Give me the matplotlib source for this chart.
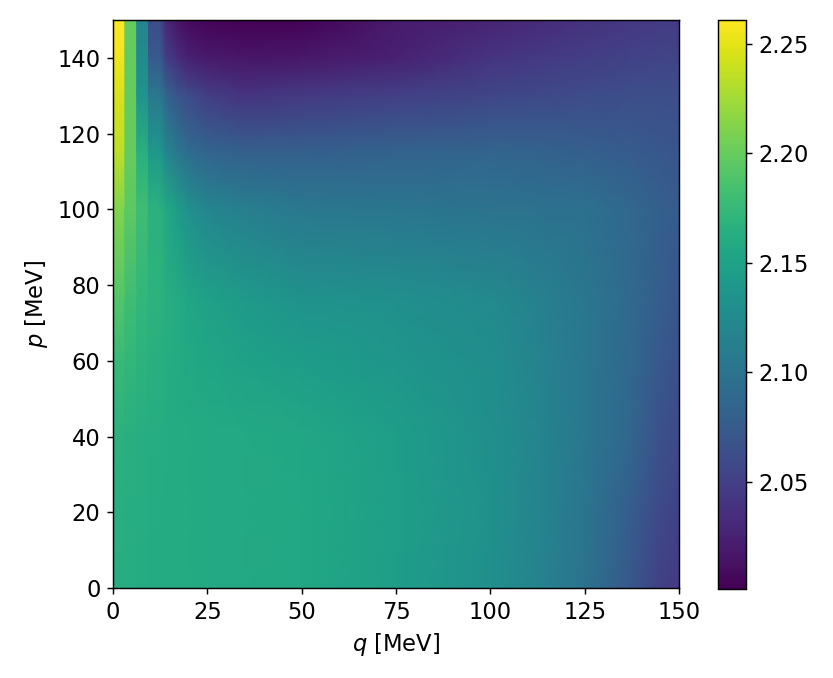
import numpy as np
import matplotlib
matplotlib.use("Agg")
import matplotlib.pyplot as plt

p_nodes = [0, 20, 40, 60, 76, 100, 115, 130, 140, 150]

# the four left-most grid columns are drawn as solid strips (cell width in MeV)
cell_w = 3.125
left_cells = [
    [2.163, 2.162, 2.161, 2.160],   # p = 0
    [2.164, 2.163, 2.162, 2.161],   # p = 20
    [2.167, 2.165, 2.163, 2.162],   # p = 40
    [2.176, 2.172, 2.168, 2.165],   # p = 60
    [2.190, 2.180, 2.172, 2.168],   # p = 76
    [2.212, 2.195, 2.180, 2.167],   # p = 100
    [2.235, 2.200, 2.165, 2.140],   # p = 115
    [2.245, 2.200, 2.135, 2.105],   # p = 130
    [2.255, 2.200, 2.125, 2.075],   # p = 140
    [2.261, 2.200, 2.118, 2.060],   # p = 150
]

# smooth part of the map, values at these q nodes (MeV)
q_nodes = [14.06, 17.2, 20, 25, 35, 50, 75, 100, 112, 125, 137, 145, 150]
smooth_vals = [
    [2.160, 2.160, 2.160, 2.159, 2.158, 2.157, 2.146, 2.131, 2.118, 2.100, 2.072, 2.050, 2.045],
    [2.160, 2.160, 2.160, 2.159, 2.158, 2.157, 2.147, 2.132, 2.119, 2.102, 2.078, 2.058, 2.052],
    [2.161, 2.160, 2.160, 2.159, 2.158, 2.156, 2.146, 2.131, 2.120, 2.104, 2.087, 2.066, 2.058],
    [2.162, 2.160, 2.158, 2.155, 2.150, 2.145, 2.138, 2.128, 2.118, 2.104, 2.089, 2.072, 2.064],
    [2.164, 2.160, 2.155, 2.150, 2.142, 2.135, 2.130, 2.124, 2.116, 2.104, 2.090, 2.078, 2.070],
    [2.157, 2.145, 2.132, 2.120, 2.112, 2.105, 2.103, 2.100, 2.099, 2.097, 2.088, 2.080, 2.075],
    [2.120, 2.105, 2.093, 2.085, 2.080, 2.080, 2.083, 2.085, 2.083, 2.080, 2.076, 2.072, 2.070],
    [2.085, 2.070, 2.060, 2.048, 2.040, 2.045, 2.050, 2.055, 2.058, 2.060, 2.062, 2.062, 2.062],
    [2.048, 2.035, 2.025, 2.020, 2.016, 2.018, 2.025, 2.040, 2.044, 2.048, 2.052, 2.053, 2.053],
    [2.030, 2.015, 2.008, 2.004, 2.001, 2.003, 2.019, 2.027, 2.032, 2.038, 2.043, 2.046, 2.046],
]

# build the node grid: each left strip gets two nodes with the same value
eps = 0.02
left = np.array(left_cells)
n_left = left.shape[1]
q_left = []
for i in range(n_left):
    q_left += [i * cell_w + (eps if i else 0.0), (i + 1) * cell_w - eps]
q_all = np.array(q_left + q_nodes)
values = np.hstack([np.repeat(left, 2, axis=1), np.array(smooth_vals)])

plt.rcParams['font.size'] = 12.5

fig = plt.figure(figsize=(833 / 130, 678 / 130), dpi=130)
ax = fig.add_axes([0.1357, 0.1327, 0.6794, 0.8378])
cax = fig.add_axes([0.862, 0.1313, 0.0336, 0.8392])

Q, P = np.meshgrid(q_all, p_nodes)
mesh = ax.pcolormesh(Q, P, values, cmap='viridis', shading='gouraud')

ax.set_xlim(0, 150)
ax.set_ylim(0, 150)
ax.set_xticks([0, 25, 50, 75, 100, 125, 150])
ax.set_yticks([0, 20, 40, 60, 80, 100, 120, 140])
ax.set_xlabel(r'$q$ [MeV]')
ax.set_ylabel(r'$p$ [MeV]')

fig.colorbar(mesh, cax=cax)

fig.savefig('out.png', dpi=130)
